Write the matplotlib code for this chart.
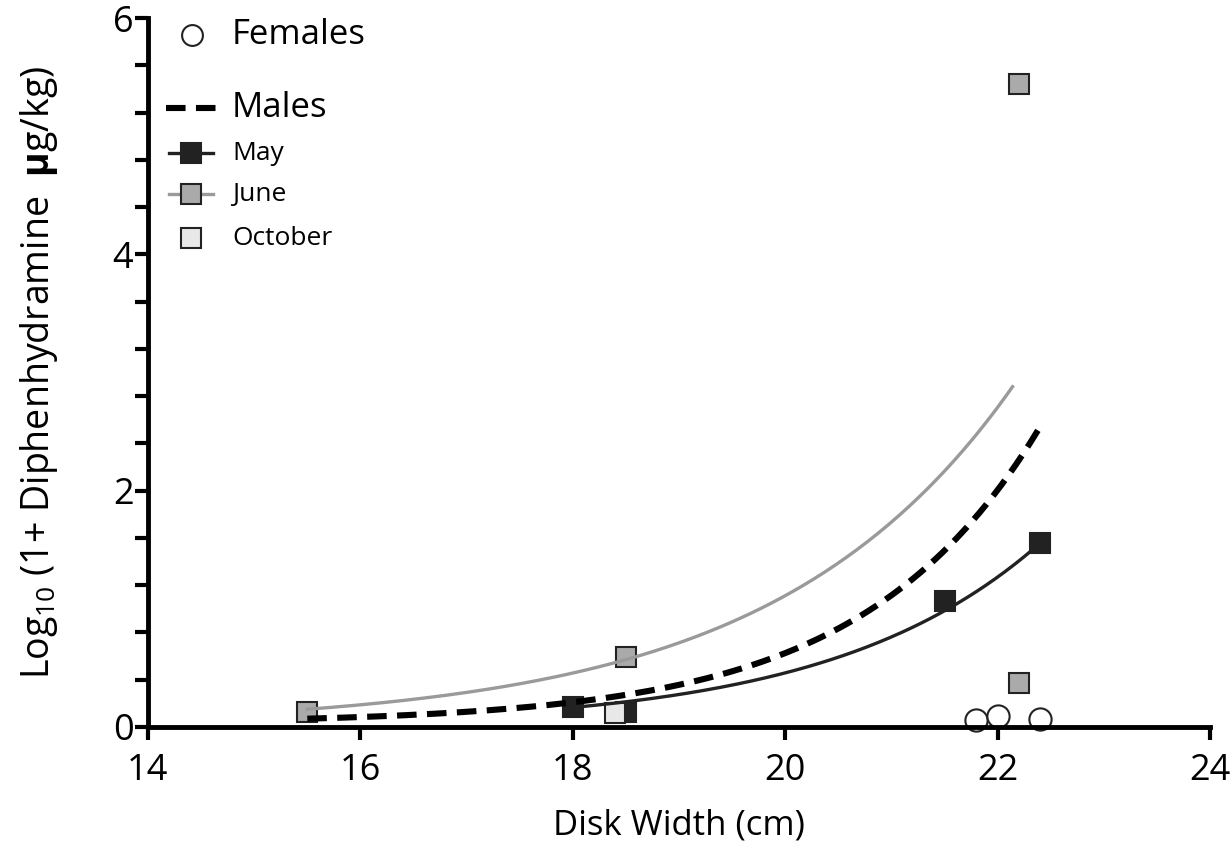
import numpy as np
import matplotlib
matplotlib.use("Agg")
import matplotlib.pyplot as plt
from matplotlib.lines import Line2D

plt.rcParams['font.family'] = ['Open Sans', 'DejaVu Sans']
plt.rcParams['mathtext.fontset'] = 'custom'
plt.rcParams['mathtext.rm'] = 'Open Sans'
plt.rcParams['mathtext.bf'] = 'Open Sans:bold'

# ---- data ----
female_x = [21.8, 22.0, 22.4]
female_y = [0.06, 0.09, 0.07]

may_x = [18.0, 18.5, 21.5, 22.4]
may_y = [0.17, 0.13, 1.07, 1.56]

june_x = [15.5, 18.5, 22.2, 22.2]
june_y = [0.13, 0.59, 5.44, 0.37]

oct_x = [18.4]
oct_y = [0.12]

# exponential fit curves: y = c + a * exp(b * (x - x0)), drawn over [x_start, x_end]
june_fit = dict(a=0.15, b=0.445, c=0.0, x0=15.5, x_start=15.5, x_end=22.14)
males_fit = dict(a=0.04, b=0.60, c=0.03, x0=15.5, x_start=15.5, x_end=22.38)
may_fit = dict(a=0.165, b=0.51, c=0.0, x0=18.0, x_start=18.0, x_end=22.4)

x_ticks = [14, 16, 18, 20, 22, 24]
y_ticks = [0, 2, 4, 6]


def curve(p):
    xs = np.linspace(p['x_start'], p['x_end'], 200)
    return xs, p['c'] + p['a'] * np.exp(p['b'] * (xs - p['x0']))


fig = plt.figure(figsize=(12.31, 8.60), dpi=100)
ax = fig.add_axes([0.1202, 0.1547, 0.8628, 0.8243])

dark = '#222222'
ms = 15
dash = (0, (3.2, 1.7))

# fit lines
xs, ys = curve(june_fit)
ax.plot(xs, ys, color='#9a9a9a', lw=2.4, zorder=3)
xs, ys = curve(may_fit)
ax.plot(xs, ys, color=dark, lw=2.4, zorder=3)
xs, ys = curve(males_fit)
ax.plot(xs, ys, color='black', lw=4.4, ls=dash, zorder=4)

# points
ax.plot(may_x, may_y, ls='none', marker='s', ms=ms, mfc=dark, mec=dark, mew=1.5, zorder=2)
ax.plot(june_x, june_y, ls='none', marker='s', ms=ms, mfc='#aaaaaa', mec=dark, mew=1.5, zorder=2)
ax.plot(oct_x, oct_y, ls='none', marker='s', ms=ms, mfc='#e8e8e8', mec=dark, mew=1.5, zorder=2)
ax.plot(female_x, female_y, ls='none', marker='o', ms=ms + 1, mfc='white', mec=dark, mew=1.5,
        zorder=2, clip_on=False)

ax.set_xlim(14, 24)
ax.set_ylim(0, 6)
ax.set_xticks(x_ticks)
ax.set_yticks(y_ticks)
ax.set_yticks(np.arange(0, 6.01, 0.4), minor=True)
ax.tick_params(axis='both', which='major', length=9.5, width=3, labelsize=26, direction='out')
ax.tick_params(axis='x', which='major', pad=9)
ax.tick_params(axis='y', which='major', pad=1)
ax.tick_params(axis='y', which='minor', length=9.5, width=3)
ax.tick_params(axis='x', which='minor', length=0)
for s in ['top', 'right']:
    ax.spines[s].set_visible(False)
for s in ['left', 'bottom']:
    ax.spines[s].set_linewidth(3.5)

ax.set_xlabel('Disk Width (cm)', fontsize=25, labelpad=14)
ax.set_ylabel(r'Log$_{\mathrm{10}}$ (1+ Diphenhydramine  $\mathbf{µ}$g/kg)', fontsize=27, labelpad=38)

# legend (manual)
T = ax.transAxes
def key_y(py):
    return 1 - (py - 18) / (727 - 18)
def key_x(px):
    return (px - 148) / (1210 - 148)

ax.add_line(Line2D([key_x(192)], [key_y(35)], transform=T, marker='o', ms=ms, mfc='white',
                   mec=dark, mew=1.5, ls='none'))
ax.text(key_x(232), key_y(35), 'Females', transform=T, fontsize=25, va='center')
ax.add_line(Line2D([key_x(166), key_x(216)], [key_y(108)] * 2, transform=T, color='black',
                   lw=4.4, ls=dash))
ax.text(key_x(232), key_y(108), 'Males', transform=T, fontsize=25, va='center')
for py, fc, lc, lab in [(153, dark, dark, 'May'), (194, '#aaaaaa', '#9a9a9a', 'June'),
                        (238, '#e8e8e8', None, 'October')]:
    if lc is not None:
        ax.add_line(Line2D([key_x(169), key_x(213)], [key_y(py)] * 2, transform=T, color=lc, lw=2.4))
    ax.add_line(Line2D([key_x(191)], [key_y(py)], transform=T, marker='s', ms=ms - 1, mfc=fc,
                       mec=dark, mew=1.5, ls='none'))
    ax.text(key_x(232), key_y(py), lab, transform=T, fontsize=19, va='center')

fig.savefig('out.png', dpi=100)
